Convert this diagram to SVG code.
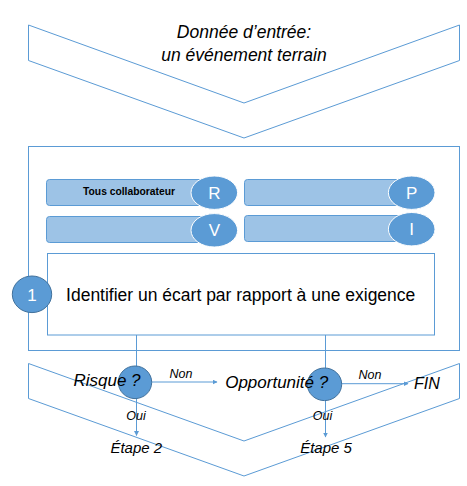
<svg xmlns="http://www.w3.org/2000/svg" width="467" height="486" viewBox="0 0 467 486">
<defs>
<style>
.ln{fill:none;stroke:#5B9BD5;stroke-width:1}
.bar{fill:#9DC3E6;stroke:#5B9BD5;stroke-width:1}
.dot{fill:#5B9BD5;stroke:#41719C;stroke-width:1}
.role{fill:#5B9BD5;stroke:#fff;stroke-width:1}
.t{font-family:"Liberation Sans",Arial,sans-serif;fill:#000}
.it{font-style:italic}
.w{font-family:"Liberation Sans",Arial,sans-serif;fill:#fff;text-anchor:middle}
</style>
<marker id="ah" viewBox="0 0 10 10" refX="9" refY="5" markerWidth="5" markerHeight="5" orient="auto" markerUnits="userSpaceOnUse">
<path d="M0,0 L10,5 L0,10 z" fill="#5B9BD5"/>
</marker>
</defs>
<rect width="467" height="486" fill="#fff"/>

<g id="input">
<polygon class="ln" points="28.5,25 244,103 459.5,25 459.5,60.5 244,138 28.5,60.5"/>
<text class="t it" x="244" y="37.5" font-size="17.5" text-anchor="middle">Donnée d’entrée:</text>
<text class="t it" x="244" y="60.5" font-size="17.5" text-anchor="middle">un événement terrain</text>
</g>

<g id="output-chevron">
<polygon class="ln" points="28.5,363.5 244,441 459.5,363.5 459.5,398.5 244,476 28.5,398.5"/>
</g>

<g id="step-frame">
<rect class="ln" x="28.5" y="146.5" width="431" height="204"/>
</g>

<g id="role-R">
<rect class="bar" x="46.5" y="179.5" width="170" height="26" rx="3"/>
<ellipse class="role" cx="214.3" cy="192.7" rx="23.3" ry="16.7"/>
<text class="t" x="129" y="194.5" font-size="10.3" font-weight="bold" text-anchor="middle">Tous collaborateur</text>
<text class="w" x="214.3" y="198.7" font-size="17">R</text>
</g>
<g id="role-P">
<rect class="bar" x="244.5" y="179.5" width="168" height="26" rx="3"/>
<ellipse class="role" cx="411.7" cy="192.7" rx="23.3" ry="16.7"/>
<text class="w" x="411.7" y="198.7" font-size="17">P</text>
</g>
<g id="role-V">
<rect class="bar" x="46.5" y="216.5" width="170" height="26" rx="3"/>
<ellipse class="role" cx="214.3" cy="230.3" rx="23.3" ry="16.7"/>
<text class="w" x="214.3" y="236.3" font-size="17">V</text>
</g>
<g id="role-I">
<rect class="bar" x="244.5" y="215.5" width="168" height="26" rx="3"/>
<ellipse class="role" cx="411.7" cy="229.2" rx="23.3" ry="16.7"/>
<text class="w" x="411.7" y="235.2" font-size="17">I</text>
</g>

<g id="step1">
<rect x="47.5" y="253.5" width="387" height="81.5" fill="#fff" stroke="#5B9BD5" stroke-width="1"/>
<text class="t" x="240.7" y="300.5" font-size="17.5" text-anchor="middle">Identifier un écart par rapport à une exigence</text>
</g>
<g id="badge1">
<ellipse class="dot" cx="32" cy="294.3" rx="19.7" ry="18.3"/>
<text class="w" x="32" y="300.5" font-size="17">1</text>
</g>

<g id="connectors">
<line class="ln" x1="136.5" y1="335" x2="136.5" y2="367"/>
<line class="ln" x1="325.5" y1="335" x2="325.5" y2="369"/>
<line class="ln" x1="151.7" y1="382" x2="217" y2="382" marker-end="url(#ah)"/>
<line class="ln" x1="341.7" y1="383.7" x2="408" y2="383.7" marker-end="url(#ah)"/>
<line class="ln" x1="136.5" y1="398.7" x2="136.5" y2="435.5" marker-end="url(#ah)"/>
<line class="ln" x1="325.5" y1="400.7" x2="325.5" y2="437" marker-end="url(#ah)"/>
</g>

<g id="risque">
<ellipse class="dot" cx="135" cy="382.3" rx="16.7" ry="16.3"/>
<text class="t it" x="107" y="385.5" font-size="17" text-anchor="middle">Risque ?</text>
</g>
<g id="opportunite">
<ellipse class="dot" cx="324.5" cy="384.3" rx="17.2" ry="16.3"/>
<text class="t it" x="276.7" y="387.5" font-size="17" text-anchor="middle">Opportunité ?</text>
</g>
<g id="fin">
<text class="t it" x="414" y="388.5" font-size="16">FIN</text>
</g>
<g id="etape2">
<text class="t it" x="136.3" y="452.5" font-size="15" text-anchor="middle">Étape 2</text>
</g>
<g id="etape5">
<text class="t it" x="326" y="452.5" font-size="15" text-anchor="middle">Étape 5</text>
</g>
<g id="labels">
<text class="t it" x="181" y="377.5" font-size="12.5" text-anchor="middle">Non</text>
<text class="t it" x="370" y="379" font-size="12.5" text-anchor="middle">Non</text>
<text class="t it" x="136" y="419.5" font-size="12.5" text-anchor="middle">Oui</text>
<text class="t it" x="322.5" y="419.5" font-size="12.5" text-anchor="middle">Oui</text>
</g>
</svg>
